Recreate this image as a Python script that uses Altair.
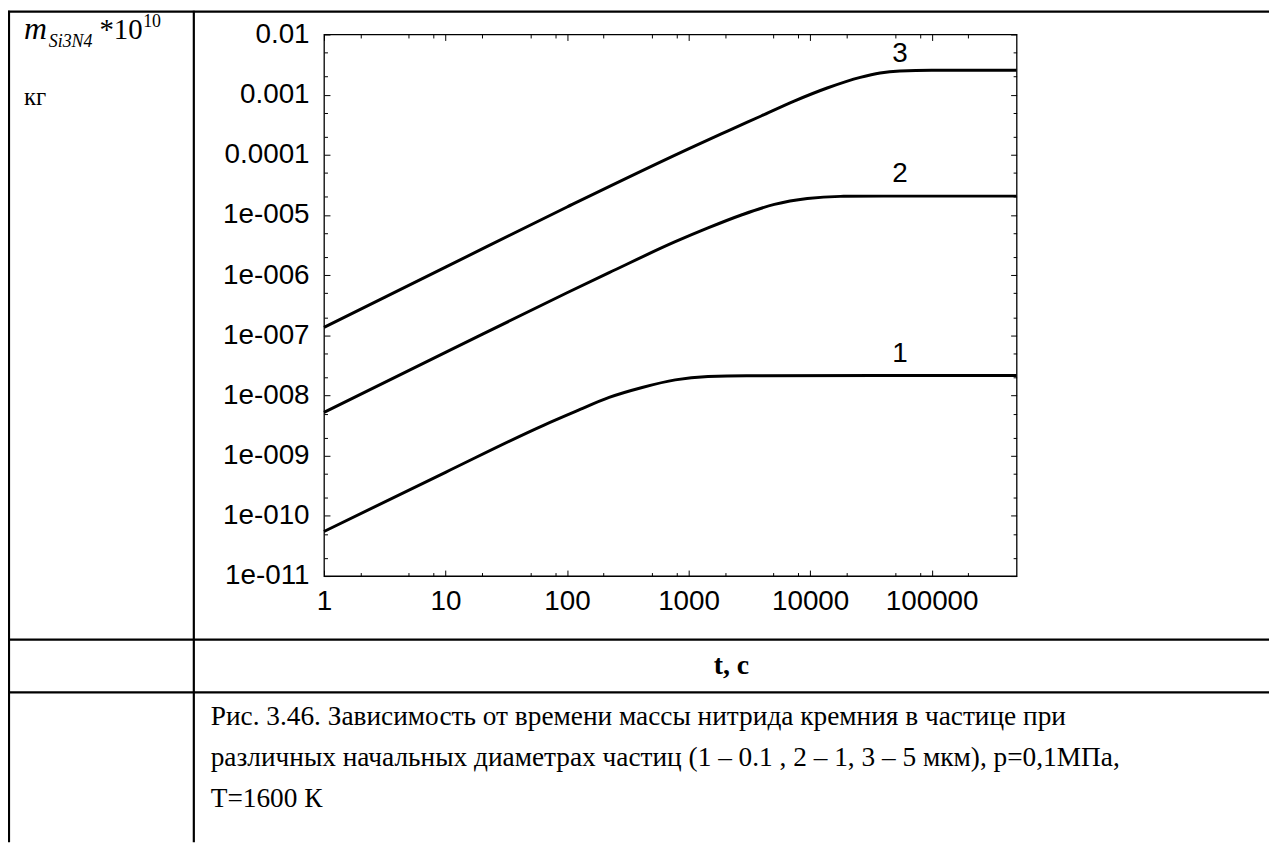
import altair as alt
import pandas as pd

# ---------------- values ----------------
t_curve1 = [1, 10, 64, 119, 222, 415, 777, 1445, 3000, 500000]
m_curve1 = [5.5e-11, 5.3e-10, 3.2e-9, 5.5e-9, 9.3e-9, 1.36e-8, 1.82e-8, 2.07e-8, 2.14e-8, 2.15e-8]

t_curve2 = [1, 10, 100, 222, 777, 1445, 2718, 5080, 9490, 17750, 40000, 500000]
m_curve2 = [5.26e-9, 5.2e-8, 5.1e-7, 1.1e-6, 3.6e-6, 6.1e-6, 1.0e-5, 1.5e-5, 1.88e-5,
            2.04e-5, 2.06e-5, 2.06e-5]

t_curve3 = [1, 10, 100, 1130, 2113, 3955, 7390, 13810, 25880, 37650, 54800, 100000, 500000]
m_curve3 = [1.36e-7, 1.36e-6, 1.36e-5, 1.41e-4, 2.5e-4, 4.42e-4, 7.81e-4, 1.29e-3, 1.94e-3,
            2.29e-3, 2.47e-3, 2.54e-3, 2.54e-3]

curve_names = ["1", "2", "3"]
label_t = [55000, 55000, 55000]
label_m = [4.84e-8, 4.75e-5, 4.7e-3]

x_major = [1, 10, 100, 1000, 10000, 100000]
x_labels = ["1", "10", "100", "1000", "10000", "100000"]
x_minor = [2, 5, 8, 20, 50, 80, 200, 500, 800, 2000, 5000, 8000,
           20000, 50000, 80000, 200000]

y_major = [1e-11, 1e-10, 1e-9, 1e-8, 1e-7, 1e-6, 1e-5, 1e-4, 1e-3, 1e-2]
y_labels = ["1e-011", "1e-010", "1e-009", "1e-008", "1e-007", "1e-006", "1e-005",
            "0.0001", "0.001", "0.01"]
y_minor = [2e-11, 5e-11, 2e-10, 5e-10, 2e-9, 5e-9, 2e-8, 5e-8, 2e-7, 5e-7, 2e-6, 5e-6,
           2e-5, 5e-5, 2e-4, 5e-4, 2e-3, 5e-3]

caption_lines = [
    "Рис. 3.46. Зависимость от времени массы нитрида кремния в частице при",
    "различных начальных диаметрах частиц (1 – 0.1 , 2 – 1, 3 – 5 мкм), р=0,1МПа,",
    "Т=1600 К",
]
x_title = "t, c"

# ---------------- tables ----------------
rows = []
for name, ts, ms in zip(curve_names, [t_curve1, t_curve2, t_curve3],
                        [m_curve1, m_curve2, m_curve3]):
    for t, m in zip(ts, ms):
        rows.append({"curve": name, "t": t, "m": m})
df = pd.DataFrame(rows)
df_lab = pd.DataFrame({"curve": curve_names, "t": label_t, "m": label_m})
one = pd.DataFrame({"k": [0]})

sx = alt.Scale(type="log", domain=[1, 500000], nice=False)
sy = alt.Scale(type="log", domain=[1e-11, 1e-2], nice=False)

SANS = "Liberation Sans"
SERIF = "Liberation Serif"
AXIS_FS = 28


def label_expr(values, labels):
    parts = [f"abs(datum.value / {v!r} - 1) < 0.001 ? '{lab}'" for v, lab in zip(values, labels)]
    return " : ".join(parts) + " : ''"


x_label_axis = alt.Axis(values=x_major, labelExpr=label_expr(x_major, x_labels), ticks=False,
                        tickSize=0, domain=False, grid=False, labelFont=SANS,
                        labelFontSize=AXIS_FS, labelColor="black", labelPadding=12,
                        labelFlush=False, labelOverlap=False, title=None)
y_label_axis = alt.Axis(values=y_major, labelExpr=label_expr(y_major, y_labels), ticks=False,
                        tickSize=0, domain=False, grid=False, labelFont=SANS,
                        labelFontSize=AXIS_FS, labelColor="black", labelPadding=15,
                        labelFlush=False, labelOverlap=False, title=None)

lines = alt.Chart(df).mark_line(color="black", strokeWidth=3, interpolate="monotone").encode(
    x=alt.X("t:Q", scale=sx, axis=x_label_axis),
    y=alt.Y("m:Q", scale=sy, axis=y_label_axis),
    detail="curve:N",
)

curve_text = alt.Chart(df_lab).mark_text(font=SANS, fontSize=28, color="black",
                                          align="center", baseline="middle").encode(
    x=alt.X("t:Q", scale=sx, axis=None),
    y=alt.Y("m:Q", scale=sy, axis=None),
    text="curve:N",
)


def tick_axis(orient, values, size):
    return alt.Axis(orient=orient, values=values, labels=False, domain=False, grid=False,
                    ticks=True, tickSize=size, offset=-size, tickColor="black", tickWidth=1,
                    title=None)


def x_ticks(orient, values, size):
    return alt.Chart(df).mark_line(opacity=0).encode(
        x=alt.X("t:Q", scale=sx, axis=tick_axis(orient, values, size)),
        y=alt.Y("m:Q", scale=sy, axis=None),
        detail="curve:N",
    )


def y_ticks(orient, values, size):
    return alt.Chart(df).mark_line(opacity=0).encode(
        x=alt.X("t:Q", scale=sx, axis=None),
        y=alt.Y("m:Q", scale=sy, axis=tick_axis(orient, values, size)),
        detail="curve:N",
    )


tick_layers = [
    x_ticks("bottom", x_major, 6), x_ticks("bottom", x_minor, 3.5),
    x_ticks("top", x_major, 6), x_ticks("top", x_minor, 3.5),
    y_ticks("left", y_major, 6), y_ticks("left", y_minor, 3.5),
    y_ticks("right", y_major, 6), y_ticks("right", y_minor, 3.5),
]


# table frame (decoration, pixel positions relative to plot origin)
def hline(y, x1, x2):
    return alt.Chart(one).mark_rule(color="black", strokeWidth=2.2).encode(
        x=alt.value(x1), x2=alt.value(x2), y=alt.value(y))


def vline(x, y1, y2):
    return alt.Chart(one).mark_rule(color="black", strokeWidth=2.2).encode(
        x=alt.value(x), y=alt.value(y1), y2=alt.value(y2))


def txt(s, x, y, size, font=SERIF, style="normal", weight="normal", align="left",
        baseline="alphabetic"):
    return alt.Chart(one).mark_text(text=s, font=font, fontSize=size, fontStyle=style,
                                    fontWeight=weight, align=align, baseline=baseline,
                                    color="black").encode(x=alt.value(x), y=alt.value(y))


frame = [
    hline(-23, -318, 951),
    hline(609, -318, 951),
    hline(662, -318, 951),
    vline(-317, -24, 813),
    vline(-131, -24, 813),
]

texts = [
    txt("m", -302, 5, 32, style="italic"),
    txt("Si3N4", -277, 13, 18, style="italic"),
    txt("*10", -226, 5, 29),
    txt("10", -182, -8, 18),
    txt("кг", -302, 71, 25),
    txt(x_title, 410, 636, 28, weight="bold", align="center", baseline="middle"),
    txt(caption_lines[0], -114, 687, 27.5, baseline="middle"),
    txt(caption_lines[1], -114, 728, 27.5, baseline="middle"),
    txt(caption_lines[2], -114, 769, 27.5, baseline="middle"),
]

chart = alt.layer(lines, curve_text, *tick_layers, *frame, *texts).resolve_axis(
    x="independent", y="independent"
).properties(
    width=697, height=545,
    autosize=alt.AutoSizeParams(type="none"),
    padding={"left": 318, "top": 24, "right": 254, "bottom": 268},
    background="white",
).configure_view(stroke="black", strokeWidth=1.3)

chart.save("out.html", embed_options={"renderer": "svg", "actions": False})
